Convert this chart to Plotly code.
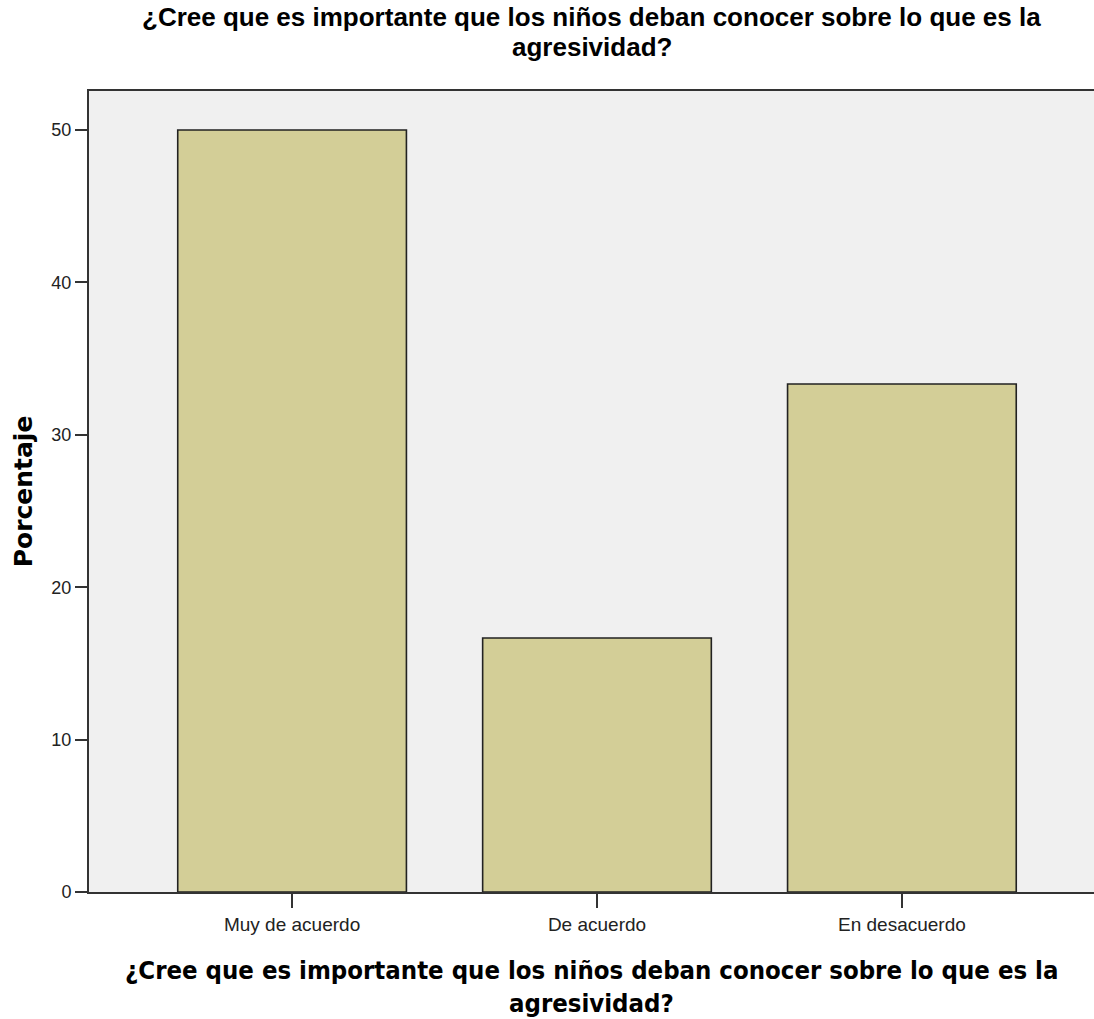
import plotly.graph_objects as go

categories = ["Muy de acuerdo", "De acuerdo", "En desacuerdo"]
percentages = [50.0, 16.67, 33.33]
y_ticks = [0, 10, 20, 30, 40, 50]
title_line1 = "¿Cree que es importante que los niños deban conocer sobre lo que es la"
title_line2 = "agresividad?"

W, H = 1094, 1019
PLOT_LEFT, PLOT_TOP, PLOT_BOTTOM = 89, 91, 892
plot_h = PLOT_BOTTOM - PLOT_TOP


def py(pix):
    """convert a pixel row to paper y"""
    return (PLOT_BOTTOM - pix) / plot_h


fig = go.Figure(
    go.Bar(
        x=list(range(len(categories))),
        y=percentages,
        width=0.75,
        marker=dict(color="#D3CE97", line=dict(color="#222222", width=1.6)),
    )
)

top_font = dict(family="Liberation Sans Narrow, Liberation Sans, Arial", size=26, color="#000000", weight="bold")
bot_font = dict(family="DejaVu Sans Condensed, DejaVu Sans", size=25.5, color="#000000", weight="bold")

annotations = [
    dict(text=title_line1, x=0.5, y=py(17), font=top_font),
    dict(text=title_line2, x=0.5, y=py(47), font=top_font),
    dict(text=title_line1, x=0.5, y=py(970), font=bot_font),
    dict(text=title_line2, x=0.5, y=py(1003), font=bot_font),
]
for a in annotations:
    a.update(xref="paper", yref="paper", xanchor="center", yanchor="middle", showarrow=False)

fig.update_layout(
    width=W,
    height=H,
    margin=dict(l=PLOT_LEFT, r=0, t=PLOT_TOP, b=H - PLOT_BOTTOM),
    paper_bgcolor="white",
    plot_bgcolor="#F0F0F0",
    showlegend=False,
    font=dict(family="Liberation Sans, Arial, sans-serif", color="#000000"),
    annotations=annotations,
)

fig.update_xaxes(
    tickmode="array",
    tickvals=list(range(len(categories))),
    ticktext=categories,
    range=[-0.666, 2.63],
    showgrid=False,
    zeroline=False,
    showline=True,
    linecolor="#333333",
    linewidth=2,
    mirror=True,
    ticks="outside",
    ticklen=14,
    tickwidth=1.5,
    tickcolor="#333333",
    tickfont=dict(size=19, color="#222222"),
)

fig.update_yaxes(
    tickmode="array",
    tickvals=y_ticks,
    range=[0, 52.56],
    showgrid=False,
    zeroline=False,
    showline=True,
    linecolor="#333333",
    linewidth=2,
    ticks="outside",
    ticklen=12,
    tickwidth=1.5,
    tickcolor="#333333",
    tickfont=dict(size=18, color="#222222"),
    title=dict(text="Porcentaje", font=dict(family="DejaVu Sans, Liberation Sans", size=25, weight="bold"), standoff=12),
)

fig.write_html(
    "out.html",
    config={"displayModeBar": False},
    post_script="document.body.style.margin='0px';document.body.style.overflow='hidden';",
)
